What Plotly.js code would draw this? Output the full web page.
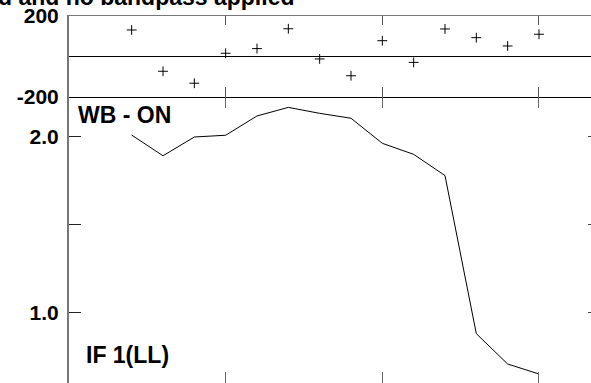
<!DOCTYPE html>
<html>
<head>
<meta charset="utf-8">
<script src="https://cdn.plot.ly/plotly-3.0.1.min.js"></script>
<style>html,body{margin:0;padding:0;background:#fff;overflow:hidden}</style>
</head>
<body>
<div id="chart" style="width:591px;height:383px"></div>
<script>
// Channel index for each point
const channels = [2, 3, 4, 5, 6, 7, 8, 9, 10, 11, 12, 13, 14, 15];
// Upper panel: phase (degrees)
const phase = [131, -73, -132, 16, 39, 137, -12, -95, 78, -29, 136, 93, 52, 110];
// Lower panel: amplitude
const amplitude = [2.011, 1.893, 2.0, 2.01, 2.12, 2.169, 2.135, 2.107, 1.964, 1.901, 1.78, 0.878, 0.705, 0.648];
// Tick labels
const xTickVals = [0, 5, 10, 15];
const phaseTickVals = [-200, 200];
const phaseTickText = ['-200', '200'];
const ampTickVals = [1.0, 1.5, 2.0];
const ampTickText = ['1.0', '', '2.0'];
// Texts
const titleText = 'd and no bandpass applied';
const panelLabelTop = 'WB - ON';
const panelLabelBottom = 'IF 1(LL)';

const FONT = 'Liberation Sans, Arial, Helvetica, sans-serif';
const xRange = [0, 16.66];
const phaseRange = [-200, 200];
const ampRange = [0.5967, 2.2282];
const split = 0.7793;

const traces = [
  {x: channels, y: phase, xaxis: 'x', yaxis: 'y', type: 'scatter', mode: 'markers',
   marker: {symbol: 'cross-thin-open', size: 7, color: '#000', line: {color: '#000', width: 1}},
   hoverinfo: 'skip', cliponaxis: false},
  {x: channels, y: amplitude, xaxis: 'x2', yaxis: 'y2', type: 'scatter', mode: 'lines',
   line: {color: '#000', width: 1}, hoverinfo: 'skip'},
  {x: [], y: [], xaxis: 'x3', yaxis: 'y', type: 'scatter', mode: 'markers', hoverinfo: 'skip'},
  {x: [], y: [], xaxis: 'x2', yaxis: 'y3', type: 'scatter', mode: 'markers', hoverinfo: 'skip'}
];

const tickFont = {family: FONT, size: 21, color: '#000', weight: 'bold'};

const layout = {
  width: 591, height: 383,
  margin: {l: 69, r: 0, t: 16, b: 0, pad: 0},
  paper_bgcolor: '#fff', plot_bgcolor: '#fff',
  showlegend: false,
  font: {family: FONT, color: '#000'},
  xaxis: {anchor: 'y', side: 'top', domain: [0, 1], range: xRange,
    showline: true, linecolor: '#777', linewidth: 1,
    ticks: 'inside', ticklen: 9, tickcolor: '#555', tickwidth: 1,
    tickvals: xTickVals, showticklabels: false, showgrid: false, zeroline: false},
  xaxis3: {overlaying: 'x', anchor: 'y', side: 'bottom', range: xRange,
    showline: true, linecolor: '#000', linewidth: 1,
    ticks: 'inside', ticklen: 10, tickcolor: '#555', tickwidth: 1,
    tickvals: xTickVals, showticklabels: false, showgrid: false, zeroline: false},
  xaxis2: {anchor: 'y2', side: 'bottom', domain: [0, 1], range: xRange,
    showline: false, mirror: 'ticks',
    ticks: 'inside', ticklen: 11, tickcolor: '#666', tickwidth: 1,
    tickvals: xTickVals, showticklabels: false, showgrid: false, zeroline: false},
  yaxis: {anchor: 'x', domain: [split, 1], range: phaseRange,
    showline: true, linecolor: '#777', linewidth: 2,
    ticks: 'inside', ticklen: 9, tickcolor: '#222', tickwidth: 1,
    tickvals: phaseTickVals, ticktext: phaseTickText, tickfont: tickFont,
    ticklabelstandoff: 4,
    showgrid: false, zeroline: true, zerolinecolor: '#000', zerolinewidth: 1},
  yaxis2: {anchor: 'x2', domain: [0, split], range: ampRange,
    showline: true, linecolor: '#777', linewidth: 2,
    ticks: 'inside', ticklen: 12, tickcolor: '#222', tickwidth: 1,
    tickvals: ampTickVals, ticktext: ampTickText, tickfont: tickFont,
    ticklabelstandoff: 4,
    showgrid: false, zeroline: false},
  yaxis3: {overlaying: 'y2', anchor: 'x2', side: 'right', range: ampRange,
    showline: false, ticks: 'inside', ticklen: 3, tickcolor: '#444', tickwidth: 1,
    tickvals: ampTickVals, showticklabels: false, showgrid: false, zeroline: false},
  annotations: [
    {text: titleText, xref: 'paper', yref: 'paper', x: 0.4349, y: 1.0109,
     xanchor: 'right', yanchor: 'bottom', showarrow: false,
     font: {family: FONT, size: 23, color: '#000', weight: 'bold'}},
    {text: panelLabelTop, xref: 'paper', yref: 'paper', x: 0.0134, y: 0.7294,
     xanchor: 'left', yanchor: 'middle', showarrow: false,
     font: {family: FONT, size: 23, color: '#000', weight: 'bold'}},
    {text: panelLabelBottom, xref: 'paper', yref: 'paper', x: 0.0293, y: 0.0755,
     xanchor: 'left', yanchor: 'middle', showarrow: false,
     font: {family: FONT, size: 23, color: '#000', weight: 'bold'}}
  ]
};

Plotly.newPlot('chart', traces, layout, {staticPlot: true, displayModeBar: false});
</script>
</body>
</html>
